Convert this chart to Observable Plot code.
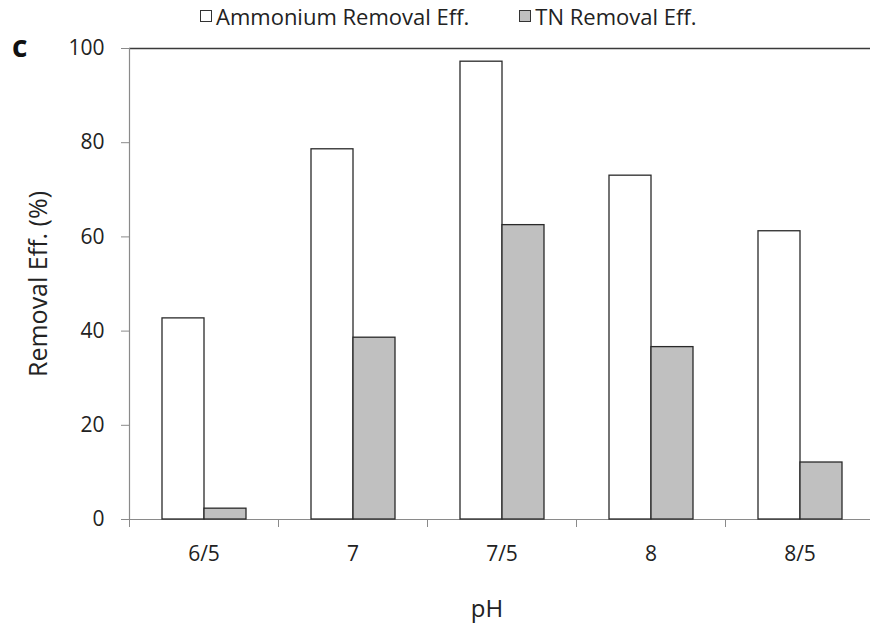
<!DOCTYPE html>
<html>
<head>
<meta charset="utf-8">
<script src="https://cdn.jsdelivr.net/npm/d3@7"></script>
<script src="https://cdn.jsdelivr.net/npm/@observablehq/plot@0.6"></script>
<style>
  html, body { margin: 0; padding: 0; background: #fff; }
  #wrap { position: relative; width: 870px; height: 630px; font-family: "Open Sans", sans-serif; color: #222; }
  #chart { position: absolute; left: 0; top: 0; }
  #legend { position: absolute; top: 1px; left: 200px; display: flex; align-items: center; font-size: 22px; white-space: nowrap; }
  #legend .item { display: flex; align-items: center; }
  #legend .sw { width: 12px; height: 12px; border: 1px solid #333; margin-right: 4px; box-sizing: border-box; }
  #panel { position: absolute; left: 12px; top: 25px; font-size: 30px; font-weight: bold; color: #111; }
  #xlabel { position: absolute; left: 487px; top: 591px; transform: translateX(-50%); font-size: 24px; }
  g[aria-label="y-axis label"] text { font-size: 25px; }
</style>
</head>
<body>
<div id="wrap">
  <div id="chart"></div>
  <div id="legend"></div>
  <div id="panel">c</div>
  <div id="xlabel">pH</div>
</div>
<script>
const pH = ["6/5", "7", "7/5", "8", "8/5"];
const series = ["Ammonium Removal Eff.", "TN Removal Eff."];
const ammonium = [42.7, 78.6, 97.2, 73.0, 61.2];
const tn = [2.3, 38.6, 62.5, 36.6, 12.1];
const yTicks = [0, 20, 40, 60, 80, 100];
const colors = ["#ffffff", "#c0c0c0"];

const data = [];
pH.forEach((p, i) => {
  data.push({pH: p, series: series[0], value: ammonium[i]});
  data.push({pH: p, series: series[1], value: tn[i]});
});

const W = 870, H = 630;
const mLeft = 129, mRight = -4, mTop = 48, mBottom = 111;
const step = (W - mRight - mLeft) / pH.length;

const chart = Plot.plot({
  width: W,
  height: H,
  marginLeft: mLeft,
  marginRight: mRight,
  marginTop: mTop,
  marginBottom: mBottom,
  style: {fontFamily: "Open Sans, sans-serif", fontSize: "21px", color: "#222", background: "#fff", overflow: "visible"},
  fx: {domain: pH, paddingInner: 0, paddingOuter: 0, axis: null, label: null},
  x: {domain: series, paddingInner: 0, paddingOuter: 0.733, axis: null},
  y: {domain: [0, 100], axis: null},
  color: {domain: series, range: colors},
  marks: [
    Plot.ruleY([100], {stroke: "#3a3a3a", strokeWidth: 1.6}),
    Plot.ruleY([0], {stroke: "#8a8a8a", strokeWidth: 1.2}),
    Plot.frame({anchor: "left", facetAnchor: "left", stroke: "#8a8a8a", strokeWidth: 1.2}),
    Plot.barY(data, {fx: "pH", x: "series", y: "value", fill: "series", stroke: "#2a2a2a", strokeWidth: 1.3}),
    Plot.axisY({ticks: yTicks, tickSize: 8, tickPadding: 17, stroke: "#8a8a8a", fill: "#222",
      label: "Removal Eff. (%)", labelAnchor: "center", labelArrow: "none", labelOffset: 100}),
    Plot.axisFx({anchor: "bottom", tickSize: 0, tickPadding: 27, label: null, fill: "#222"}),
    Plot.axisFx({anchor: "bottom", tickSize: 8, tickFormat: () => "", label: null, stroke: "#8a8a8a", dx: -step / 2})
  ]
});
document.getElementById("chart").appendChild(chart);

const legend = document.getElementById("legend");
series.forEach((s, i) => {
  const item = document.createElement("div");
  item.className = "item";
  if (i > 0) item.style.marginLeft = "50px";
  const sw = document.createElement("span");
  sw.className = "sw";
  sw.style.background = colors[i];
  const t = document.createElement("span");
  t.textContent = s;
  item.appendChild(sw);
  item.appendChild(t);
  legend.appendChild(item);
});
</script>
</body>
</html>
